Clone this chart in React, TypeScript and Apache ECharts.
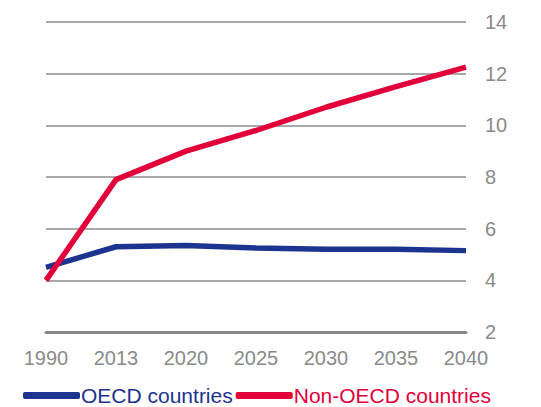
import React, { useEffect, useRef } from "react";
import * as echarts from "echarts";

const years = ["1990", "2013", "2020", "2025", "2030", "2035", "2040"];
const oecd = [4.5, 5.3, 5.35, 5.25, 5.2, 5.2, 5.15];
const nonOecd = [4.0, 7.9, 9.0, 9.8, 10.7, 11.5, 12.25];
const yTicks = [2, 14, 2]; // min, max, interval

const BLUE = "#1c3390";
const RED = "#e2003b";
const FONT = "Liberation Sans, Arial, sans-serif";

export default function App() {
  const ref = useRef<HTMLDivElement>(null);
  useEffect(() => {
    if (!ref.current) return;
    const chart = echarts.init(ref.current, null, { renderer: "svg" });
    chart.setOption({
      animation: false,
      grid: { left: 38, right: 75, top: 14, bottom: 75 },
      legend: {
        left: 10,
        top: 375,
        padding: [2, 5, 1, 5],
        itemWidth: 57,
        itemHeight: 7,
        itemGap: 3,
        icon: "roundRect",
        textStyle: { fontSize: 21, lineHeight: 21, fontFamily: FONT, padding: [0, 0, 0, -4] },
        data: [
          { name: "OECD countries", textStyle: { color: BLUE } },
          { name: "Non-OECD countries", textStyle: { color: RED } },
        ],
      },
      xAxis: {
        type: "category",
        data: years,
        boundaryGap: false,
        axisLine: { show: true, lineStyle: { color: "#888", width: 3 } },
        axisTick: { show: false },
        axisLabel: {
          color: "#8a8a8a",
          fontSize: 20,
          margin: 16,
          fontFamily: FONT,
        },
      },
      yAxis: {
        type: "value",
        position: "right",
        min: yTicks[0],
        max: yTicks[1],
        interval: yTicks[2],
        axisLine: { show: false },
        axisTick: { show: false },
        splitLine: { lineStyle: { color: "#8c8c8c", width: 1.5 } },
        axisLabel: {
          color: "#8a8a8a",
          fontSize: 20,
          margin: 19,
          fontFamily: FONT,
        },
      },
      series: [
        {
          name: "OECD countries",
          type: "line",
          data: oecd,
          symbol: "none",
          lineStyle: { color: BLUE, width: 5.5 },
          itemStyle: { color: BLUE },
        },
        {
          name: "Non-OECD countries",
          type: "line",
          data: nonOecd,
          symbol: "none",
          lineStyle: { color: RED, width: 5.5 },
          itemStyle: { color: RED },
        },
      ],
    });
    return () => chart.dispose();
  }, []);
  return <div ref={ref} style={{ width: 533, height: 399 }} />;
}
